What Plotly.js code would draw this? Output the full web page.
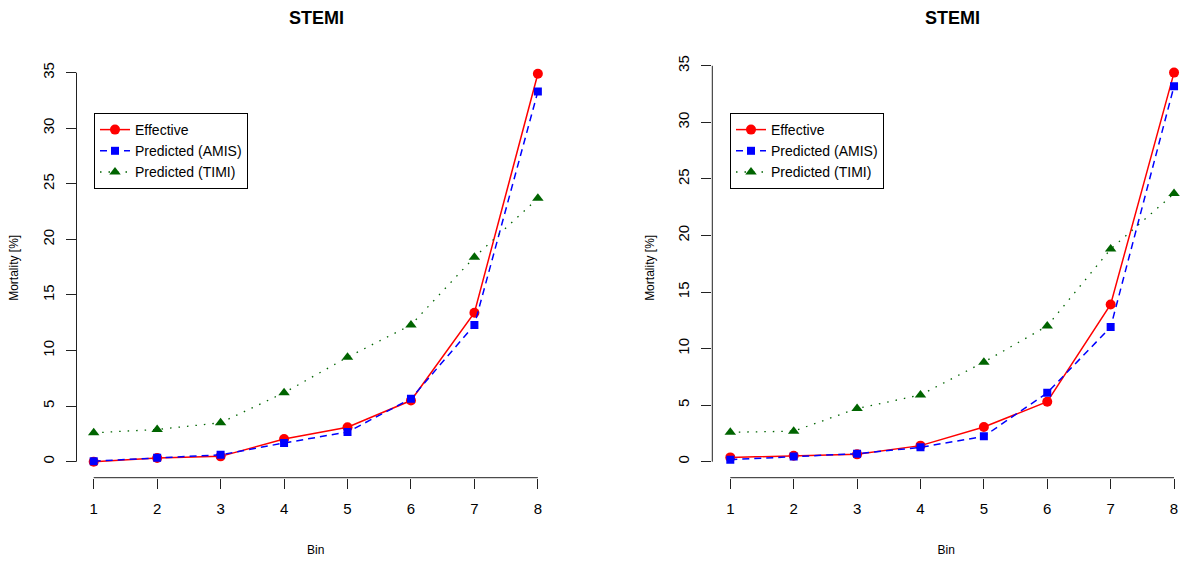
<!DOCTYPE html>
<html>
<head>
<meta charset="utf-8">
<script src="https://cdn.plot.ly/plotly-3.0.1.min.js"></script>
<style>html,body{margin:0;padding:0;background:#fff}#chart{width:1180px;height:561px}</style>
</head>
<body>
<div id="chart"></div>
<script>
// ---- data ----
const bins = [1, 2, 3, 4, 5, 6, 7, 8];
const xTickLabels = ["1", "2", "3", "4", "5", "6", "7", "8"];
const yTickVals = [0, 5, 10, 15, 20, 25, 30, 35];
const seriesNames = ["Effective", "Predicted (AMIS)", "Predicted (TIMI)"];
const panelTitles = ["STEMI", "STEMI"];

const leftEffective = [0.0, 0.33, 0.48, 2.04, 3.1, 5.5, 13.4, 34.9];
const leftAMIS      = [0.05, 0.35, 0.62, 1.68, 2.67, 5.67, 12.3, 33.3];
const leftTIMI      = [2.6, 2.9, 3.5, 6.2, 9.4, 12.3, 18.4, 23.7];

const rightEffective = [0.38, 0.53, 0.65, 1.42, 3.07, 5.3, 13.9, 34.4];
const rightAMIS      = [0.18, 0.47, 0.71, 1.27, 2.24, 6.09, 11.9, 33.2];
const rightTIMI      = [2.6, 2.7, 4.7, 5.9, 8.8, 12.0, 18.8, 23.7];

// ---- styles ----
const FONT = "Liberation Sans, Arial, Helvetica, sans-serif";
const styles = [
  {color: "#ff0000", dash: "solid", symbol: "circle", size: 10},
  {color: "#0000ff", dash: "7px,5px", symbol: "square", size: 8},
  {color: "#006400", dash: "1.5px,7px", symbol: "triangle-up", size: 10}
];

function mkTrace(y, i, xa, ya, leg) {
  const s = styles[i];
  return {
    x: bins, y: y, type: "scatter", mode: "lines+markers",
    name: seriesNames[i], xaxis: xa, yaxis: ya, legend: leg,
    line: {color: s.color, dash: s.dash, width: i === 2 ? 1.3 : 1.5},
    marker: {color: s.color, symbol: s.symbol, size: s.size},
    hoverinfo: "x+y"
  };
}

const traces = [
  mkTrace(leftEffective, 0, "x", "y", "legend"),
  mkTrace(leftAMIS, 1, "x", "y", "legend"),
  mkTrace(leftTIMI, 2, "x", "y", "legend"),
  mkTrace(rightEffective, 0, "x2", "y2", "legend2"),
  mkTrace(rightAMIS, 1, "x2", "y2", "legend2"),
  mkTrace(rightTIMI, 2, "x2", "y2", "legend2")
];

const W = 1180, H = 561;
const yBottom = (H - 477.7) / H, yTop = (H - 58) / H;

function xAx(domain, range) {
  return {
    domain: domain, range: range, showgrid: false, zeroline: false, showline: false,
    tickmode: "array", tickvals: bins, ticktext: xTickLabels,
    ticks: "outside", ticklen: 10, tickwidth: 1, tickcolor: "#222",
    tickfont: {family: FONT, size: 15, color: "#000"}, ticklabelstandoff: 7,
    title: {text: "Bin", font: {family: FONT, size: 12, color: "#000"}, standoff: 29},
    fixedrange: true
  };
}
function yAx(domain, range, anchor) {
  return {
    domain: domain, range: range, anchor: anchor, showgrid: false, zeroline: false, showline: false,
    tickmode: "array", tickvals: yTickVals, ticktext: yTickVals.map(String),
    ticks: "outside", ticklen: 10, tickwidth: 1, tickcolor: "#222", tickangle: -90,
    tickfont: {family: FONT, size: 15, color: "#000"}, ticklabelstandoff: 6,
    title: {text: "Mortality [%]", font: {family: FONT, size: 12, color: "#000"}, standoff: 18},
    fixedrange: true
  };
}

const xL = xAx([76.5 / W, 555 / W], [0.729, 8.27]);
const xR = xAx([712.3 / W, 1], [0.716, 8.094]);
xL.anchor = "y"; xR.anchor = "y2";

const yL = yAx([yBottom, yTop], [-1.44, 36.32], "x");
const yR = yAx([yBottom, yTop], [-1.415, 35.69], "x2");

// R-style axis lines spanning first to last tick
function axisShapes(xref, yref, xDomainLeft) {
  return [
    {type: "line", xref: xref, yref: "paper", x0: bins[0], x1: bins[bins.length - 1], y0: yBottom, y1: yBottom,
     line: {color: "#222", width: 1}},
    {type: "line", xref: "paper", yref: yref, x0: xDomainLeft, x1: xDomainLeft,
     y0: yTickVals[0], y1: yTickVals[yTickVals.length - 1], line: {color: "#222", width: 1}}
  ];
}

const legendStyle = (x) => ({
  x: x, y: (H - 113) / H, xanchor: "left", yanchor: "top", xref: "paper", yref: "paper",
  bgcolor: "#fff", bordercolor: "#000", borderwidth: 1,
  font: {family: FONT, size: 14, color: "#000"}, tracegroupgap: 0, itemclick: false,
  itemdoubleclick: false
});

const layout = {
  width: W, height: H, margin: {l: 0, r: 0, t: 0, b: 0},
  paper_bgcolor: "#fff", plot_bgcolor: "#fff",
  font: {family: FONT, color: "#000"},
  xaxis: xL, yaxis: yL, xaxis2: xR, yaxis2: yR,
  legend: legendStyle(94 / W),
  legend2: legendStyle(730 / W),
  shapes: axisShapes("x", "y", 76.5 / W).concat(axisShapes("x2", "y2", 712.3 / W)),
  annotations: [
    {text: "<b>" + panelTitles[0] + "</b>", xref: "paper", yref: "paper", x: 316 / W, y: (H - 18) / H,
     xanchor: "center", yanchor: "middle", showarrow: false, font: {family: FONT, size: 18, color: "#000"}},
    {text: "<b>" + panelTitles[1] + "</b>", xref: "paper", yref: "paper", x: 952 / W, y: (H - 18) / H,
     xanchor: "center", yanchor: "middle", showarrow: false, font: {family: FONT, size: 18, color: "#000"}}
  ],
  showlegend: true
};

Plotly.newPlot("chart", traces, layout, {displayModeBar: false, staticPlot: true});
</script>
</body>
</html>
